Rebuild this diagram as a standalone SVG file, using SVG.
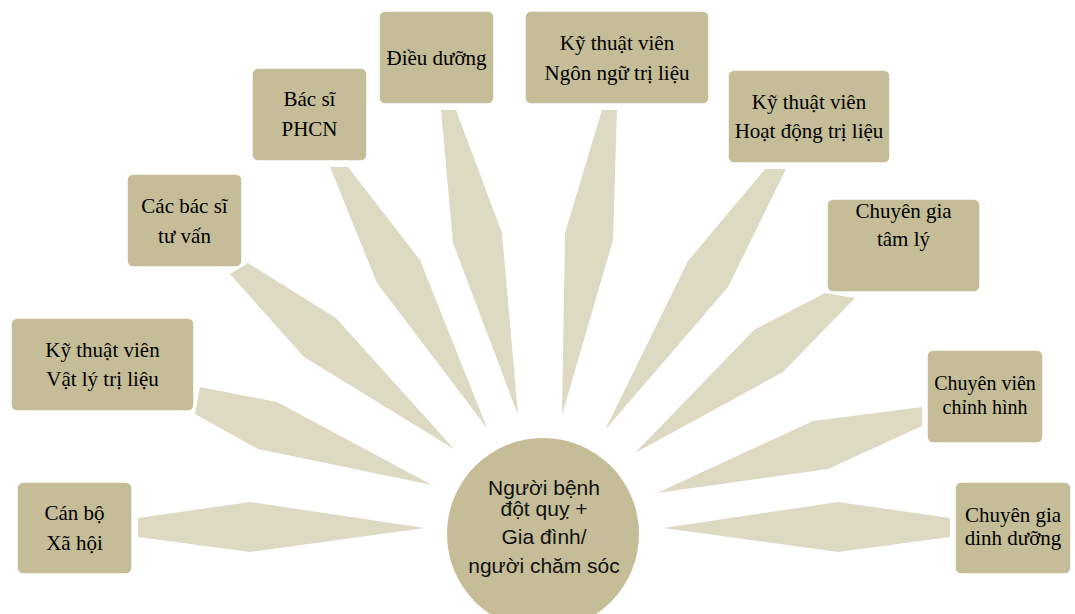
<svg xmlns="http://www.w3.org/2000/svg" width="1075" height="614" viewBox="0 0 1075 614">
<style>
.box{fill:#C4BD97;stroke:#FFFFFF;stroke-width:1.5}
.con{fill:#DDD9C3}
.t{font-family:"Liberation Serif","Times New Roman",serif;font-size:21px;fill:#000;text-anchor:middle}
.s{font-size:20px}
.c{font-family:"Liberation Sans",Arial,sans-serif;font-size:21px;fill:#111;text-anchor:middle}
</style>
<rect width="1075" height="614" fill="#FFFFFF"/>
<g id="connectors">
<polygon class="con" points="138,518 250,502 425,528 250,552 138,537"/>
<polygon class="con" points="200,387 277,402 432,485 258,449 195,414"/>
<polygon class="con" points="248,263 336,318 454,449 304,357 230,274"/>
<polygon class="con" points="330,167 348,167 420,260 487,428 377,283"/>
<polygon class="con" points="441,110 456,110 502,233 518,415 453,243"/>
<polygon class="con" points="602,110 617,110 613,240 562,415 565,233"/>
<polygon class="con" points="765,169 786,169 728,287 605,430 688,261"/>
<polygon class="con" points="825,293 855,298 783,372 635,453 754,330"/>
<polygon class="con" points="922,407 922,426 828,469 657,493 813,421"/>
<polygon class="con" points="950,518 950,537 838,552 663,528 838,502"/>
</g>
<g id="n-center">
<circle cx="543" cy="534" r="96" fill="#C4BD97"/>
<text class="c" x="544" y="495">Người bệnh</text>
<text class="c" x="544" y="516">đột quỵ +</text>
<text class="c" x="544" y="544">Gia đình/</text>
<text class="c" x="544" y="573">người chăm sóc</text>
</g>
<g id="n-canbo">
<rect class="box" x="17" y="482" width="115" height="92" rx="6"/>
<text class="t" x="74.5" y="520">Cán bộ</text>
<text class="t" x="74.5" y="550">Xã hội</text>
</g>
<g id="n-vatly">
<rect class="box" x="11" y="318" width="183" height="93" rx="6"/>
<text class="t" x="102.5" y="356.5">Kỹ thuật viên</text>
<text class="t" x="102.5" y="386">Vật lý trị liệu</text>
</g>
<g id="n-tuvan">
<rect class="box" x="127" y="174" width="115" height="93" rx="6"/>
<text class="t" x="184.5" y="212.5">Các bác sĩ</text>
<text class="t" x="184.5" y="242.5">tư vấn</text>
</g>
<g id="n-phcn">
<rect class="box" x="252" y="68" width="115" height="93" rx="6"/>
<text class="t" x="309.5" y="106">Bác sĩ</text>
<text class="t" x="309.5" y="136">PHCN</text>
</g>
<g id="n-dieuduong">
<rect class="box" x="379" y="11" width="115" height="93" rx="6"/>
<text class="t" x="436.5" y="65">Điều dưỡng</text>
</g>
<g id="n-ngonngu">
<rect class="box" x="525" y="11" width="184" height="93" rx="6"/>
<text class="t" x="617" y="49.5">Kỹ thuật viên</text>
<text class="t" x="617" y="79.5">Ngôn ngữ trị liệu</text>
</g>
<g id="n-hoatdong">
<rect class="box" x="728" y="70" width="162" height="93" rx="6"/>
<text class="t" x="809" y="108.5">Kỹ thuật viên</text>
<text class="t" x="809" y="138">Hoạt động trị liệu</text>
</g>
<g id="n-tamly">
<rect class="box" x="827" y="199" width="153" height="93" rx="6"/>
<text class="t" x="903.5" y="218">Chuyên gia</text>
<text class="t" x="903.5" y="246">tâm lý</text>
</g>
<g id="n-chinhhinh">
<rect class="box" x="927" y="350" width="116" height="93" rx="6"/>
<text class="t s" x="985" y="390">Chuyên viên</text>
<text class="t s" x="985" y="414">chỉnh hình</text>
</g>
<g id="n-dinhduong">
<rect class="box" x="955" y="482" width="116" height="92" rx="6"/>
<text class="t" x="1013" y="522">Chuyên gia</text>
<text class="t" x="1013" y="545">dinh dưỡng</text>
</g>
</svg>
